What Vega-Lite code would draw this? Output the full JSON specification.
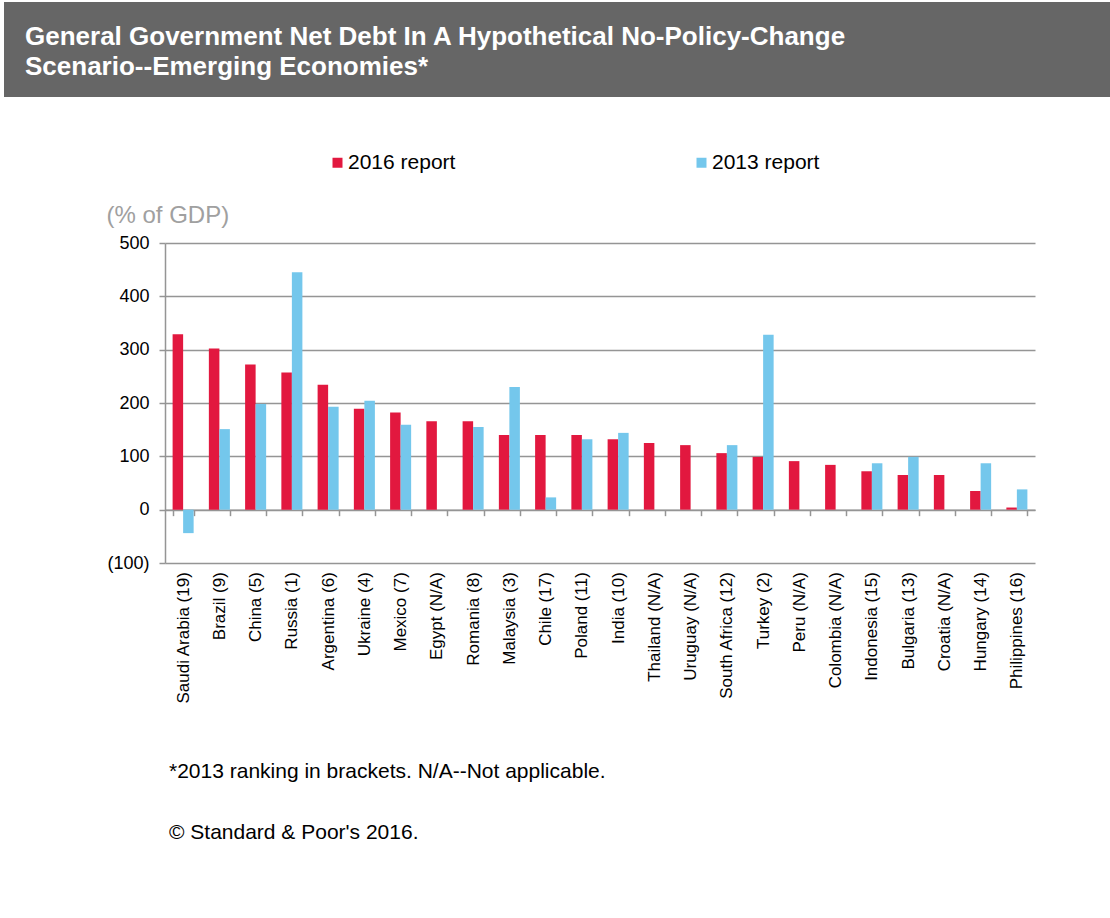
{
  "$schema": "https://vega.github.io/schema/vega-lite/v6.json",
  "padding": {"left": 4, "top": 2, "right": 0, "bottom": 0},
  "background": "white",
  "config": {
    "view": {"stroke": null},
    "font": "Liberation Sans",
    "concat": {"spacing": 0}
  },
  "spacing": 55,
  "resolve": {"scale": {"color": "independent"}, "legend": {"color": "independent"}},
  "vconcat": [
    {
      "width": 1106,
      "height": 95,
      "view": {"fill": "#666666", "stroke": null},
      "data": {"values": [{"t": ""}]},
      "mark": {"type": "text"},
      "encoding": {"text": {"field": "t"}},
      "title": {
        "text": ["General Government Net Debt In A Hypothetical No-Policy-Change", "Scenario--Emerging Economies*"],
        "orient": "top",
        "anchor": "start",
        "frame": "group",
        "offset": -78,
        "dx": 21,
        "color": "#ffffff",
        "fontSize": 26,
        "fontWeight": "bold",
        "lineHeight": 30,
        "font": "Liberation Sans"
      }
    },
    {
      "spacing": 0,
      "resolve": {"scale": {"color": "independent"}, "legend": {"color": "independent"}},
      "hconcat": [
        {
          "width": 102,
          "height": 10,
          "data": {"values": [{"t": ""}]},
          "mark": {"type": "text"},
          "encoding": {"text": {"field": "t"}}
        },
        {
          "width": 870,
          "height": 320,
          "data": {"values": [
            {"country": "Saudi Arabia (19)", "report": "2016 report", "value": 329},
            {"country": "Saudi Arabia (19)", "report": "2013 report", "value": -44},
            {"country": "Brazil (9)", "report": "2016 report", "value": 302},
            {"country": "Brazil (9)", "report": "2013 report", "value": 151},
            {"country": "China (5)", "report": "2016 report", "value": 272},
            {"country": "China (5)", "report": "2013 report", "value": 198},
            {"country": "Russia (1)", "report": "2016 report", "value": 257},
            {"country": "Russia (1)", "report": "2013 report", "value": 445},
            {"country": "Argentina (6)", "report": "2016 report", "value": 234},
            {"country": "Argentina (6)", "report": "2013 report", "value": 193},
            {"country": "Ukraine (4)", "report": "2016 report", "value": 189},
            {"country": "Ukraine (4)", "report": "2013 report", "value": 204},
            {"country": "Mexico (7)", "report": "2016 report", "value": 182},
            {"country": "Mexico (7)", "report": "2013 report", "value": 159},
            {"country": "Egypt (N/A)", "report": "2016 report", "value": 166},
            {"country": "Romania (8)", "report": "2016 report", "value": 166},
            {"country": "Romania (8)", "report": "2013 report", "value": 155},
            {"country": "Malaysia (3)", "report": "2016 report", "value": 140},
            {"country": "Malaysia (3)", "report": "2013 report", "value": 230},
            {"country": "Chile (17)", "report": "2016 report", "value": 140},
            {"country": "Chile (17)", "report": "2013 report", "value": 23},
            {"country": "Poland (11)", "report": "2016 report", "value": 140},
            {"country": "Poland (11)", "report": "2013 report", "value": 132},
            {"country": "India (10)", "report": "2016 report", "value": 132},
            {"country": "India (10)", "report": "2013 report", "value": 144},
            {"country": "Thailand (N/A)", "report": "2016 report", "value": 125},
            {"country": "Uruguay (N/A)", "report": "2016 report", "value": 121},
            {"country": "South Africa (12)", "report": "2016 report", "value": 106},
            {"country": "South Africa (12)", "report": "2013 report", "value": 121},
            {"country": "Turkey (2)", "report": "2016 report", "value": 99},
            {"country": "Turkey (2)", "report": "2013 report", "value": 328},
            {"country": "Peru (N/A)", "report": "2016 report", "value": 91},
            {"country": "Colombia (N/A)", "report": "2016 report", "value": 84},
            {"country": "Indonesia (15)", "report": "2016 report", "value": 72},
            {"country": "Indonesia (15)", "report": "2013 report", "value": 87},
            {"country": "Bulgaria (13)", "report": "2016 report", "value": 65},
            {"country": "Bulgaria (13)", "report": "2013 report", "value": 99},
            {"country": "Croatia (N/A)", "report": "2016 report", "value": 65},
            {"country": "Hungary (14)", "report": "2016 report", "value": 35},
            {"country": "Hungary (14)", "report": "2013 report", "value": 87},
            {"country": "Philippines (16)", "report": "2016 report", "value": 4},
            {"country": "Philippines (16)", "report": "2013 report", "value": 38}
          ]},
          "mark": {"type": "bar"},
          "encoding": {
            "x": {
              "field": "country",
              "type": "nominal",
              "sort": null,
              "scale": {"paddingInner": 0.42, "paddingOuter": 0.21},
              "axis": {
                "title": null,
                "labelAngle": -90,
                "labelFontSize": 17,
                "labelColor": "#000000",
                "offset": -53.333,
                "tickBand": "extent",
                "tickSize": 6,
                "tickColor": "#959595",
                "tickWidth": 1.5,
                "domainColor": "#959595",
                "domainWidth": 1.5,
                "labelPadding": 56,
                "grid": false
              }
            },
            "xOffset": {
              "field": "report",
              "type": "nominal",
              "scale": {"domain": ["2016 report", "2013 report"], "paddingInner": 0, "paddingOuter": 0}
            },
            "y": {
              "field": "value",
              "type": "quantitative",
              "scale": {"domain": [-100, 500], "nice": false, "zero": false},
              "axis": {
                "values": [-100, 0, 100, 200, 300, 400, 500],
                "labelExpr": "datum.value < 0 ? '(' + format(-datum.value, 'd') + ')' : datum.label",
                "title": "(% of GDP)",
                "titleAngle": 0,
                "titleAlign": "left",
                "titleBaseline": "middle",
                "titleX": -59,
                "titleY": -28,
                "titleColor": "#a0a0a0",
                "titleFontSize": 24,
                "titleFontWeight": "normal",
                "labelFontSize": 18,
                "labelColor": "#000000",
                "labelPadding": 10,
                "tickSize": 6,
                "tickColor": "#959595",
                "tickWidth": 1.5,
                "domainColor": "#959595",
                "domainWidth": 1.5,
                "grid": true,
                "gridColor": "#959595",
                "gridWidth": 1.5
              }
            },
            "color": {
              "field": "report",
              "type": "nominal",
              "scale": {"domain": ["2016 report", "2013 report"], "range": ["#E2183F", "#74C7EC"]},
              "legend": {
                "orient": "none",
                "legendX": 162,
                "legendY": -91,
                "direction": "horizontal",
                "columns": 2,
                "columnPadding": 235,
                "title": null,
                "symbolType": "square",
                "symbolSize": 100,
                "symbolStrokeWidth": 0,
                "labelFontSize": 21,
                "labelColor": "#000000",
                "labelOffset": 0,
                "padding": 0
              }
            }
          },
          "title": {
            "text": "*2013 ranking in brackets. N/A--Not applicable.",
            "subtitle": "© Standard & Poor's 2016.",
            "orient": "bottom",
            "anchor": "start",
            "frame": "group",
            "offset": 57,
            "dx": 4,
            "fontSize": 21,
            "fontWeight": "normal",
            "color": "#000000",
            "subtitleFontSize": 21,
            "subtitleColor": "#000000",
            "subtitlePadding": 40,
            "font": "Liberation Sans",
            "subtitleFont": "Liberation Sans"
          }
        }
      ]
    }
  ]
}
